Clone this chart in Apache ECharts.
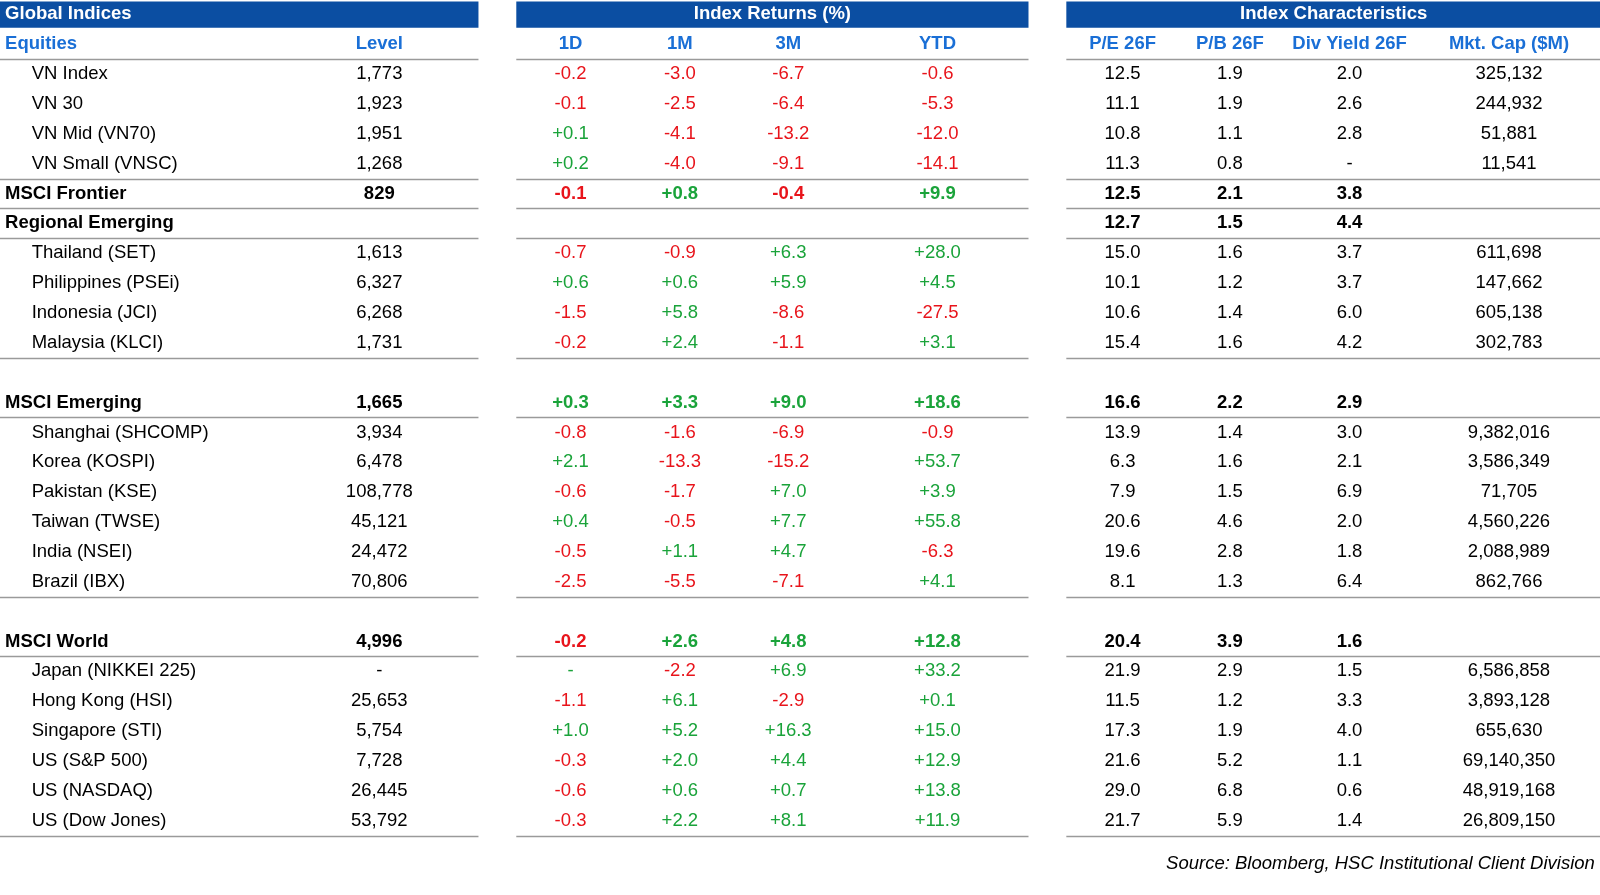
<!DOCTYPE html>
<html><head><meta charset="utf-8">
<script src="https://cdn.jsdelivr.net/npm/echarts@6/dist/echarts.min.js"></script>
<style>html,body{margin:0;background:#fff}#c{width:1600px;height:895px}</style>
</head><body><div id="c"></div>
<script>
// ---- data (null = blank spacer row) ----
const names = ["VN Index","VN 30","VN Mid (VN70)","VN Small (VNSC)","MSCI Frontier","Regional Emerging","Thailand (SET)","Philippines (PSEi)","Indonesia (JCI)","Malaysia (KLCI)",null,"MSCI Emerging","Shanghai (SHCOMP)","Korea (KOSPI)","Pakistan (KSE)","Taiwan (TWSE)","India (NSEI)","Brazil (IBX)",null,"MSCI World","Japan (NIKKEI 225)","Hong Kong (HSI)","Singapore (STI)","US (S&P 500)","US (NASDAQ)","US (Dow Jones)"];
const boldRows = ["MSCI Frontier","Regional Emerging","MSCI Emerging","MSCI World"];
const level = ["1,773","1,923","1,951","1,268","829","","1,613","6,327","6,268","1,731","","1,665","3,934","6,478","108,778","45,121","24,472","70,806","","4,996","-","25,653","5,754","7,728","26,445","53,792"];
const ret1D = ["-0.2","-0.1","+0.1","+0.2","-0.1","","-0.7","+0.6","-1.5","-0.2","","+0.3","-0.8","+2.1","-0.6","+0.4","-0.5","-2.5","","-0.2","-","-1.1","+1.0","-0.3","-0.6","-0.3"];
const ret1M = ["-3.0","-2.5","-4.1","-4.0","+0.8","","-0.9","+0.6","+5.8","+2.4","","+3.3","-1.6","-13.3","-1.7","-0.5","+1.1","-5.5","","+2.6","-2.2","+6.1","+5.2","+2.0","+0.6","+2.2"];
const ret3M = ["-6.7","-6.4","-13.2","-9.1","-0.4","","+6.3","+5.9","-8.6","-1.1","","+9.0","-6.9","-15.2","+7.0","+7.7","+4.7","-7.1","","+4.8","+6.9","-2.9","+16.3","+4.4","+0.7","+8.1"];
const retYTD = ["-0.6","-5.3","-12.0","-14.1","+9.9","","+28.0","+4.5","-27.5","+3.1","","+18.6","-0.9","+53.7","+3.9","+55.8","-6.3","+4.1","","+12.8","+33.2","+0.1","+15.0","+12.9","+13.8","+11.9"];
const pe26 = ["12.5","11.1","10.8","11.3","12.5","12.7","15.0","10.1","10.6","15.4","","16.6","13.9","6.3","7.9","20.6","19.6","8.1","","20.4","21.9","11.5","17.3","21.6","29.0","21.7"];
const pb26 = ["1.9","1.9","1.1","0.8","2.1","1.5","1.6","1.2","1.4","1.6","","2.2","1.4","1.6","1.5","4.6","2.8","1.3","","3.9","2.9","1.2","1.9","5.2","6.8","5.9"];
const dy26 = ["2.0","2.6","2.8","-","3.8","4.4","3.7","3.7","6.0","4.2","","2.9","3.0","2.1","6.9","2.0","1.8","6.4","","1.6","1.5","3.3","4.0","1.1","0.6","1.4"];
const mcap = ["325,132","244,932","51,881","11,541","","","611,698","147,662","605,138","302,783","","","9,382,016","3,586,349","71,705","4,560,226","2,088,989","862,766","","","6,586,858","3,893,128","655,630","69,140,350","48,919,168","26,809,150"];
const groupTitles = ["Global Indices","Index Returns (%)","Index Characteristics"];
const colHeaders = ["Equities","Level","1D","1M","3M","YTD","P/E 26F","P/B 26F","Div Yield 26F","Mkt. Cap ($M)"];
const source = "Source: Bloomberg, HSC Institutional Client Division";

// ---- layout ----
const colX = [5,371,558,665,771,917,1098,1203,1320,1476];
const groupSpan = [[0,468],[505,1006],[1043,1566]];
const RED='#e8141b', GREEN='#1aa33a', BLUE='#0b4ea2', HBLUE='#1a6fd6';
const FONT='"Liberation Sans", Arial, sans-serif';

const texts = [];
groupTitles.forEach((t,i)=>texts.push({value:[i===0?5:(groupSpan[i][0]+groupSpan[i][1])/2,-1,t],color:'#fff',bold:true,align:i===0?'left':'center'}));
colHeaders.forEach((t,i)=>texts.push({value:[colX[i],0,t],color:HBLUE,bold:true,align:i===0?'left':'center'}));
const cols=[level,ret1D,ret1M,ret3M,retYTD,pe26,pb26,dy26,mcap];
names.forEach((n,r)=>{
  if(n===null) return;
  const row=r+1, b=boldRows.includes(n);
  texts.push({value:[b?5:31,row,n],color:'#000',bold:b,align:'left'});
  cols.forEach((c,k)=>{
    const v=c[r]; if(!v) return;
    let color='#000';
    if(k>=1&&k<=4) color = v[0]==='+'?GREEN:(v[0]==='-'&&v.length>1?RED:(v==='-'?GREEN:'#000'));
    texts.push({value:[colX[k+1],row,v],color,bold:b,align:'center'});
  });
});
texts.push({value:[1560,27.45,source],color:'#000',italic:true,align:'right'});

const lineRows=[0,4,5,6,10,12,18,20,26];
const lines=[];
lineRows.forEach(r=>groupSpan.forEach((g,i)=>lines.push({value:[g[0],g[1],r+0.5]})));

const chart=echarts.init(document.getElementById('c'));
chart.setOption({
  animation:false,
  grid:{left:0,right:0,top:0,bottom:0},
  xAxis:{type:'value',min:0,max:1565,show:false},
  yAxis:{type:'value',min:-1.48,max:28.49,inverse:true,show:false},
  series:[
    {type:'custom',data:groupSpan.map(g=>({value:[g[0],g[1]]})),renderItem:(p,api)=>{
      const a=api.coord([api.value(0),-1.43]),b=api.coord([api.value(1),-0.55]);
      return {type:'rect',shape:{x:a[0],y:a[1],width:b[0]-a[0],height:b[1]-a[1]},style:{fill:BLUE}};
    }},
    {type:'custom',data:lines,renderItem:(p,api)=>{
      const a=api.coord([api.value(0),api.value(2)]),b=api.coord([api.value(1),api.value(2)]);
      return {type:'line',shape:{x1:a[0],y1:Math.round(a[1])+0.5,x2:b[0],y2:Math.round(a[1])+0.5},style:{stroke:'#9a9a9a',lineWidth:1.5}};
    }},
    {type:'custom',data:texts,renderItem:(p,api)=>{
      const d=texts[p.dataIndex]; const c=api.coord([d.value[0],d.value[1]]);
      return {type:'text',x:c[0],y:c[1],style:{text:d.value[2],fill:d.color,align:d.align,verticalAlign:'middle',
        font:(d.italic?'italic ':'')+(d.bold?'bold ':'')+'18.5px '+FONT}};
    }}
  ]
});
</script></body></html>
